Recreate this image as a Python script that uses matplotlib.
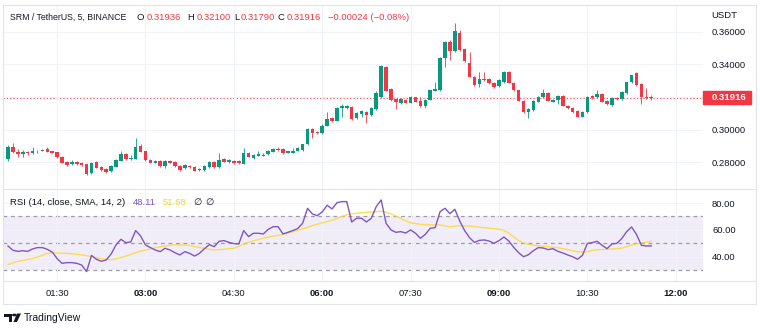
import matplotlib
matplotlib.use('agg')
import matplotlib.pyplot as plt
import matplotlib.dates as mdates
from matplotlib.patches import Rectangle, Polygon, Circle
from matplotlib.lines import Line2D
import numpy as np
import pandas as pd

plt.rcParams['font.family'] = ['Liberation Sans', 'DejaVu Sans']

# 5 minute candles, SRM/USDT
start = "2022-11-10 00:40"
opens = [0.2820, 0.2894, 0.2863, 0.2851, 0.2863, 0.2857, 0.2866, 0.2870, 0.2882, 0.2869,
         0.2860, 0.2833, 0.2802, 0.2788, 0.2802, 0.2793, 0.2787, 0.2733, 0.2802, 0.2771,
         0.2759, 0.2747, 0.2773, 0.2810, 0.2849, 0.2820, 0.2822, 0.2902, 0.2869, 0.2814,
         0.2798, 0.2810, 0.2777, 0.2808, 0.2802, 0.2777, 0.2763, 0.2779, 0.2773, 0.2753,
         0.2753, 0.2771, 0.2800, 0.2769, 0.2820, 0.2800, 0.2808, 0.2806, 0.2790, 0.2855,
         0.2825, 0.2841, 0.2841, 0.2851, 0.2865, 0.2882, 0.2880, 0.2859, 0.2859, 0.2871,
         0.2876, 0.2912, 0.3004, 0.2988, 0.2978, 0.3023, 0.3070, 0.3055, 0.3131, 0.3131,
         0.3141, 0.3070, 0.3098, 0.3110, 0.3090, 0.3125, 0.3202, 0.3384, 0.3249, 0.3188,
         0.3162, 0.3182, 0.3165, 0.3199, 0.3176, 0.3145, 0.3182, 0.3239, 0.3243, 0.3438,
         0.3539, 0.3484, 0.3591, 0.3493, 0.3407, 0.3321, 0.3280, 0.3311, 0.3311, 0.3288,
         0.3268, 0.3294, 0.3352, 0.3288, 0.3243, 0.3178, 0.3110, 0.3121, 0.3172, 0.3198,
         0.3223, 0.3172, 0.3182, 0.3208, 0.3147, 0.3135, 0.3115, 0.3080, 0.3107, 0.3206,
         0.3202, 0.3219, 0.3178, 0.3151, 0.3196, 0.3186, 0.3223, 0.3290, 0.3346, 0.3278,
         0.3202, 0.31936]
highs = [0.2906, 0.2918, 0.2882, 0.2876, 0.2869, 0.2894, 0.2878, 0.2882, 0.2894, 0.2872,
         0.2863, 0.2839, 0.2808, 0.2814, 0.2808, 0.2799, 0.2790, 0.2802, 0.2808, 0.2777,
         0.2762, 0.2784, 0.2820, 0.2871, 0.2854, 0.2845, 0.2947, 0.2909, 0.2872, 0.2817,
         0.2811, 0.2814, 0.2814, 0.2814, 0.2808, 0.2784, 0.2790, 0.2784, 0.2777, 0.2765,
         0.2784, 0.2808, 0.2805, 0.2855, 0.2826, 0.2817, 0.2811, 0.2811, 0.2886, 0.2860,
         0.2851, 0.2869, 0.2854, 0.2876, 0.2888, 0.2892, 0.2885, 0.2872, 0.2886, 0.2894,
         0.2915, 0.3010, 0.3008, 0.2992, 0.3032, 0.3110, 0.3075, 0.3136, 0.3157, 0.3151,
         0.3148, 0.3108, 0.3121, 0.3115, 0.3136, 0.3237, 0.3397, 0.3390, 0.3256, 0.3191,
         0.3194, 0.3185, 0.3206, 0.3203, 0.3200, 0.3185, 0.3246, 0.3294, 0.3446, 0.3541,
         0.3547, 0.3652, 0.3611, 0.3498, 0.3474, 0.3326, 0.3352, 0.3352, 0.3317, 0.3292,
         0.3311, 0.3357, 0.3360, 0.3292, 0.3246, 0.3182, 0.3130, 0.3182, 0.3206, 0.3249,
         0.3228, 0.3188, 0.3213, 0.3213, 0.3151, 0.3139, 0.3118, 0.3115, 0.3206, 0.3210,
         0.3243, 0.3222, 0.3182, 0.3200, 0.3200, 0.3234, 0.3295, 0.3338, 0.3354, 0.3283,
         0.3254, 0.32100]
lows = [0.2808, 0.2857, 0.2833, 0.2833, 0.2845, 0.2851, 0.2857, 0.2866, 0.2860, 0.2854,
        0.2826, 0.2793, 0.2777, 0.2784, 0.2784, 0.2777, 0.2722, 0.2728, 0.2762, 0.2747,
        0.2735, 0.2741, 0.2768, 0.2805, 0.2814, 0.2814, 0.2817, 0.2860, 0.2808, 0.2793,
        0.2793, 0.2771, 0.2765, 0.2793, 0.2771, 0.2747, 0.2759, 0.2765, 0.2744, 0.2747,
        0.2747, 0.2765, 0.2765, 0.2765, 0.2799, 0.2796, 0.2790, 0.2790, 0.2787, 0.2830,
        0.2820, 0.2836, 0.2836, 0.2845, 0.2860, 0.2869, 0.2848, 0.2854, 0.2854, 0.2866,
        0.2869, 0.2906, 0.2947, 0.2974, 0.2974, 0.3020, 0.3047, 0.3050, 0.3080, 0.3127,
        0.3059, 0.3066, 0.3080, 0.3039, 0.3084, 0.3121, 0.3197, 0.3234, 0.3176, 0.3125,
        0.3157, 0.3161, 0.3161, 0.3167, 0.3139, 0.3133, 0.3179, 0.3234, 0.3237, 0.3386,
        0.3427, 0.3479, 0.3482, 0.3415, 0.3320, 0.3268, 0.3260, 0.3298, 0.3280, 0.3254,
        0.3262, 0.3289, 0.3283, 0.3237, 0.3173, 0.3105, 0.3070, 0.3115, 0.3167, 0.3194,
        0.3173, 0.3167, 0.3156, 0.3142, 0.3127, 0.3105, 0.3075, 0.3075, 0.3102, 0.3191,
        0.3197, 0.3167, 0.3151, 0.3145, 0.3182, 0.3182, 0.3219, 0.3286, 0.3268, 0.3156,
        0.3191, 0.31790]
closes = [0.2894, 0.2863, 0.2851, 0.2863, 0.2857, 0.2869, 0.2872, 0.2878, 0.2865, 0.2859,
          0.2833, 0.2798, 0.2784, 0.2802, 0.2790, 0.2784, 0.2728, 0.2796, 0.2767, 0.2753,
          0.2742, 0.2777, 0.2814, 0.2849, 0.2819, 0.2826, 0.2896, 0.2865, 0.2814, 0.2798,
          0.2806, 0.2777, 0.2810, 0.2798, 0.2777, 0.2753, 0.2782, 0.2769, 0.2749, 0.2759,
          0.2777, 0.2800, 0.2771, 0.2814, 0.2804, 0.2812, 0.2794, 0.2794, 0.2855, 0.2834,
          0.2845, 0.2851, 0.2847, 0.2871, 0.2882, 0.2876, 0.2855, 0.2868, 0.2871, 0.2890,
          0.2910, 0.3004, 0.2982, 0.2978, 0.3024, 0.3064, 0.3053, 0.3131, 0.3145, 0.3145,
          0.3066, 0.3100, 0.3113, 0.3090, 0.3131, 0.3227, 0.3390, 0.3239, 0.3182, 0.3168,
          0.3188, 0.3165, 0.3202, 0.3172, 0.3145, 0.3182, 0.3243, 0.3248, 0.3441, 0.3536,
          0.3484, 0.3605, 0.3489, 0.3421, 0.3325, 0.3274, 0.3309, 0.3305, 0.3288, 0.3264,
          0.3305, 0.3352, 0.3288, 0.3243, 0.3178, 0.3110, 0.3125, 0.3178, 0.3202, 0.3223,
          0.3178, 0.3182, 0.3208, 0.3147, 0.3131, 0.3110, 0.3080, 0.3110, 0.3202, 0.3196,
          0.3219, 0.3172, 0.3156, 0.3196, 0.3186, 0.3229, 0.3290, 0.3335, 0.3274, 0.3199,
          0.31940, 0.31916]

rsi = [48.0, 44.8, 44.0, 44.5, 44.0, 45.8, 46.8, 46.8, 45.5, 43.5,
       38.6, 35.1, 35.6, 35.6, 35.1, 33.8, 28.9, 41.0, 38.1, 36.6,
       37.6, 42.0, 48.8, 53.0, 50.5, 51.0, 59.5, 55.5, 48.8, 46.8,
       45.0, 43.8, 46.3, 45.0, 43.0, 41.3, 43.8, 42.5, 40.5, 42.5,
       46.0, 49.0, 47.5, 51.5, 52.0, 50.7, 49.8, 49.5, 59.5, 55.0,
       57.5, 57.5, 57.0, 60.4, 62.4, 62.4, 57.0, 58.2, 59.5, 61.0,
       64.9, 76.1, 71.9, 70.6, 73.4, 78.4, 75.6, 80.3, 81.1, 81.1,
       65.9, 68.7, 68.7, 65.9, 68.7, 77.4, 82.3, 64.9, 60.0, 58.2,
       58.7, 57.7, 60.0, 57.5, 53.7, 56.7, 61.2, 61.7, 73.6, 76.1,
       72.1, 75.4, 66.7, 59.5, 54.2, 50.7, 52.2, 52.5, 51.7, 50.0,
       52.0, 54.7, 51.7, 47.0, 43.0, 40.0, 41.5, 44.5, 46.8, 46.5,
       45.3, 46.0, 44.0, 42.8, 41.3, 40.0, 38.1, 41.0, 50.0, 50.5,
       51.5, 48.5, 46.0, 49.5, 50.0, 53.5, 58.7, 62.2, 56.7, 48.5,
       48.0, 48.11]
rsi_sma = [34.2, 35.5, 36.5, 37.2, 38.0, 38.7, 39.8, 41.0, 42.5, 43.0,
           42.8, 42.6, 42.5, 42.2, 41.8, 41.4, 40.8, 40.0, 39.2, 38.6,
           38.1, 37.7, 38.5, 39.3, 40.5, 41.7, 43.0, 44.2, 45.0, 45.8,
           46.6, 47.4, 48.0, 48.5, 48.8, 48.8, 48.8, 48.4, 47.6, 46.9,
           46.2, 45.6, 45.0, 45.3, 45.6, 46.0, 46.3, 47.8, 49.5, 50.8,
           51.8, 52.8, 53.8, 54.7, 55.3, 56.0, 56.7, 57.6, 58.6, 59.5,
           60.7, 62.0, 63.2, 64.3, 65.2, 66.2, 67.2, 68.5, 70.0, 71.3,
           71.9, 72.4, 72.8, 73.1, 73.3, 73.5, 74.0, 73.1, 72.0, 70.3,
           68.5, 66.8, 65.3, 64.7, 64.2, 63.9, 63.7, 63.7, 63.7, 63.0,
           62.4, 62.8, 63.2, 63.0, 62.9, 62.5, 62.0, 61.6, 61.3, 60.9,
           60.5, 59.7, 57.5, 54.8, 52.0, 50.3, 49.2, 48.6, 48.2, 47.8,
           47.4, 47.0, 46.7, 46.0, 45.3, 44.5, 43.8, 43.4, 43.6, 44.8,
           45.2, 45.4, 45.6, 45.8, 46.0, 46.4, 47.5, 48.8, 49.5, 50.3,
           50.8, 51.68]

price_ticks = [0.28, 0.30, 0.32, 0.34, 0.36]
rsi_ticks = [40, 60, 80]
rsi_levels = [70, 50, 30]
time_ticks = ["01:30", "03:00", "04:30", "06:00", "07:30", "09:00", "10:30", "12:00"]

GREEN = '#089981'
RED = '#F23645'
PURPLE = '#7E57C2'
YELLOW = '#FDD835'
TXT = '#131722'
GRID = '#F0F3FA'

W, H = 760, 328

def box(x0, y0, x1, y1):
    return [x0 / W, 1 - y1 / H, (x1 - x0) / W, (y1 - y0) / H]

def fx(x):
    return x / W

def fy(y):
    return 1 - y / H

times = pd.date_range(start, periods=len(closes), freq='5min')
x = mdates.date2num(times)
step = 5 / (24 * 60)
o = np.array(opens); c = np.array(closes)
hi = np.array(highs); lo = np.array(lows)
up = c >= o
cols = np.where(up, GREEN, RED)

fig = plt.figure(figsize=(7.6, 3.28), dpi=100)
ax = fig.add_axes(box(3, 5, 703, 189))
ax2 = fig.add_axes(box(3, 189, 703, 281), sharex=ax)

xlim = (x[0] - 1.02 * step, x[0] + 141.55 * step)
tick_x = [mdates.date2num(pd.Timestamp(start[:10] + " " + t)) for t in time_ticks]

# candles
ax.vlines(x, lo, hi, colors=cols, linewidth=0.7, alpha=0.85, zorder=2)
body = np.maximum(np.abs(c - o), 0.0006)
ax.bar(x, body, bottom=np.minimum(o, c), width=0.72 * step, color=cols,
       linewidth=0, zorder=3)
ax.axhline(c[-1], color=RED, lw=0.8, ls=(0, (1, 2)), zorder=1)

ax.set_xlim(*xlim)
ax.set_ylim(0.2636, 0.37644)
ax.set_yticks(price_ticks)
ax.set_yticklabels([f"{p:.5f}" for p in price_ticks])
ax.yaxis.tick_right()
ax.tick_params(axis='y', length=0, pad=6.5, labelsize=6.8, labelcolor=TXT)
ax.set_xticks(tick_x)
ax.tick_params(axis='x', length=0, labelbottom=False)
ax.grid(True, color=GRID, lw=0.8, zorder=0)
for s in ax.spines.values():
    s.set_visible(False)

# RSI pane
ax2.axhspan(rsi_levels[-1], rsi_levels[0], color=PURPLE, alpha=0.1, lw=0, zorder=0)
for lv in rsi_levels:
    ax2.axhline(lv, color='#9A9DA6', lw=0.9, ls=(0, (3, 3)), zorder=1)
ax2.plot(x, rsi_sma, color=YELLOW, lw=1.0, alpha=0.85, zorder=3)
ax2.plot(x, rsi, color=PURPLE, lw=1.0, zorder=4)
ax2.set_ylim(21.9, 90.5)
ax2.set_yticks(rsi_ticks)
ax2.set_yticklabels([f"{v:.2f}" for v in rsi_ticks])
ax2.yaxis.tick_right()
ax2.tick_params(axis='y', length=0, pad=6.5, labelsize=6.8, labelcolor=TXT)
ax2.set_xticks(tick_x)
ax2.set_xticklabels(time_ticks)
ax2.tick_params(axis='x', length=0, pad=5.5, labelsize=6.8, labelcolor=TXT)
for lab, t in zip(ax2.get_xticklabels(), time_ticks):
    if t.endswith(":00"):
        lab.set_fontweight('bold')
ax2.grid(True, color=GRID, lw=0.8, zorder=0)
for s in ax2.spines.values():
    s.set_visible(False)

# frame and separators
fig.add_artist(Rectangle((fx(3), fy(304)), fx(753), 299 / H, transform=fig.transFigure,
                         fill=False, edgecolor='#E0E3EB', lw=0.8))
for yy in (189, 281):
    fig.add_artist(Line2D([fx(3), fx(756)], [fy(yy), fy(yy)], color='#E0E3EB', lw=0.8))

# last price marker
fig.add_artist(Rectangle((fx(703), fy(104.3)), 48.4 / W, 13.6 / H,
                         transform=fig.transFigure, color=RED, zorder=5))
fig.text(fx(711.5), fy(97.5), f"{c[-1]:.5f}", color='white', fontsize=6.8,
         fontweight='bold', va='center', ha='left', zorder=6)
fig.text(fx(711.5), fy(16), "USDT", color=TXT, fontsize=6.8, va='center', ha='left')

# legend lines
hy = fy(17.3)
chg = c[-1] - c[-2]
fig.text(fx(10), hy, "SRM / TetherUS, 5, BINANCE", color=TXT, fontsize=6.3, va='center')
for lbl, val, lx, vx in [("O", o[-1], 136.7, 146.2), ("H", hi[-1], 187.7, 196.5),
                         ("L", lo[-1], 234.3, 240.3), ("C", c[-1], 277.7, 286.5)]:
    fig.text(fx(lx), hy, lbl, color=TXT, fontsize=6.8, va='center')
    fig.text(fx(vx), hy, f"{val:.5f}", color=RED, fontsize=6.8, va='center')
fig.text(fx(328.3), hy,
         f"{chg:+.5f} ({chg / c[-2] * 100:+.2f}%)".replace('-', '\u2212'),
         color=RED, fontsize=6.8, va='center')

ry = fy(202.3)
fig.text(fx(10), ry, "RSI (14, close, SMA, 14, 2)", color=TXT, fontsize=6.8, va='center')
fig.text(fx(132.7), ry, f"{rsi[-1]:.2f}", color=PURPLE, fontsize=6.8, va='center')
fig.text(fx(162.7), ry, f"{rsi_sma[-1]:.2f}", color='#F2D43D', fontsize=6.8, va='center')
fig.text(fx(193.3), ry, "\u2205", color=TXT, fontsize=6.8, va='center')
fig.text(fx(205.7), ry, "\u2205", color=TXT, fontsize=6.8, va='center')

# TradingView logo
fig.add_artist(Polygon([[fx(4), fy(313.5)], [fx(12), fy(313.5)], [fx(12), fy(322)],
                        [fx(8.5), fy(322)], [fx(8.5), fy(316.5)], [fx(4), fy(316.5)]],
                       closed=True, transform=fig.transFigure, color=TXT, lw=0))
fig.add_artist(Circle((fx(14.3), fy(315)), 1.5 / W, transform=fig.transFigure, color=TXT))
fig.add_artist(Polygon([[fx(17), fy(313.5)], [fx(21), fy(313.5)], [fx(17), fy(322)],
                        [fx(13.5), fy(322)]], closed=True, transform=fig.transFigure,
                       color=TXT, lw=0))
fig.text(fx(24), fy(318), "TradingView", color=TXT, fontsize=7.5, va='center')

fig.savefig('out.png', dpi=100, facecolor='white')
